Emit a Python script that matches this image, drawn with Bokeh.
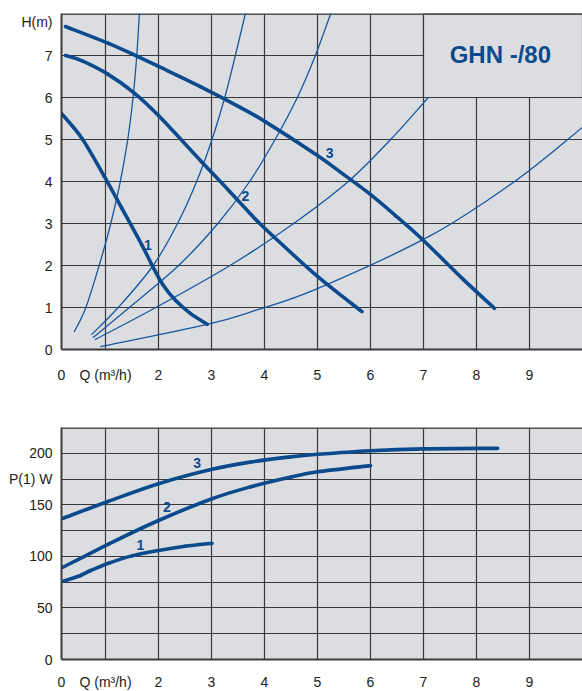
from bokeh.plotting import figure
from bokeh.models import FixedTicker, Span, Range1d
from bokeh.layouts import column
from bokeh.embed import file_html
from bokeh.resources import INLINE
from bokeh.core.properties import value

# ---------------- data: head curves H(m) vs Q(m3/h) ----------------
pump1_q = [0.17, 0.56, 0.97, 1.31, 1.69, 1.89, 2.08, 2.32, 2.60, 2.92]
pump1_h = [5.62, 5.02, 4.14, 3.36, 2.48, 1.98, 1.55, 1.17, 0.86, 0.6]
pump2_q = [0.245, 0.56, 1.05, 1.55, 2.0, 2.82, 3.36, 3.83, 4.17, 5.0, 5.84]
pump2_h = [7.0, 6.87, 6.55, 6.10, 5.57, 4.46, 3.74, 3.10, 2.69, 1.74, 0.9]
pump3_q = [0.245, 1.057, 1.60, 2.0, 2.79, 3.55, 4.02, 5.0, 5.49, 5.98, 6.47, 6.98, 7.75, 8.34]
pump3_h = [7.69, 7.29, 6.98, 6.74, 6.26, 5.76, 5.42, 4.62, 4.17, 3.71, 3.19, 2.62, 1.67, 0.98]

sysA_q = [0.415, 0.63, 0.88, 1.10, 1.28, 1.42, 1.52, 1.59, 1.64]
sysA_h = [0.43, 1.0, 2.0, 3.0, 4.0, 5.0, 6.0, 7.0, 8.0]
sysB_q = [0.74, 1.24, 1.90, 2.36, 2.72, 3.01, 3.25, 3.45, 3.64]
sysB_h = [0.36, 1.0, 2.0, 3.0, 4.0, 5.0, 6.0, 7.0, 8.0]
sysC_q = [0.77, 1.45, 2.38, 3.12, 3.72, 4.20, 4.62, 4.96, 5.25]
sysC_h = [0.29, 1.0, 2.0, 3.0, 4.0, 5.0, 6.0, 7.0, 8.0]
sysD_q = [0.81, 1.95, 3.35, 4.55, 5.58, 6.38, 7.09]
sysD_h = [0.24, 1.0, 2.0, 3.0, 4.0, 5.0, 6.0]
sysE_q = [0.91, 2.92, 3.83, 5.0, 7.13, 8.74, 10.0]
sysE_h = [0.07, 0.6, 0.93, 1.45, 2.71, 4.02, 5.29]

head_labels = ["1", "2", "3"]
head_label_q = [1.80, 3.64, 5.23]
head_label_h = [2.5, 3.65, 4.67]

# ---------------- data: power curves P1(W) vs Q ----------------
pow1_q = [0.21, 0.53, 0.72, 1.06, 1.5, 2.0, 2.5, 3.01]
pow1_p = [76, 81.5, 86.3, 93.4, 100.5, 105.7, 109.8, 112.8]
pow2_q = [0.2, 1.06, 2.0, 3.01, 3.74, 4.5, 5.0, 6.0]
pow2_p = [89.5, 112, 134.8, 155.9, 167.5, 177, 182, 188]
pow3_q = [0.2, 1.06, 2.0, 3.01, 3.74, 4.49, 5.0, 6.0, 7.0, 8.4]
pow3_p = [137, 153.5, 170.5, 184.5, 191.5, 196.5, 199, 202.5, 204.3, 204.8]

pow_labels = ["1", "2", "3"]
pow_label_q = [1.66, 2.16, 2.73]
pow_label_p = [111.5, 147.8, 190.5]

title = "GHN -/80"

x_ticks = [0.17, 1, 2, 3, 4, 5, 6, 7, 8, 9]
x_tick_labels = ["0", "Q (m³/h)", "2", "3", "4", "5", "6", "7", "8", "9"]
x_grid = [1, 2, 3, 4, 5, 6, 7, 8, 9]

h_ticks = [0, 1, 2, 3, 4, 5, 6, 7, 7.79]
h_tick_labels = ["0", "1", "2", "3", "4", "5", "6", "7", "H(m)"]
h_grid = [1, 2, 3, 4, 5, 6, 7]

p_ticks = [0, 50, 100, 150, 175, 200]
p_tick_labels = ["0", "50", "100", "150", "P(1) W", "200"]
p_grid = [25, 50, 75, 100, 125, 150, 175, 200]

# ---------------- style ----------------
BG = "#dcdde0"
GRID = "#383838"
THICK = "#0b4a8d"
THIN = "#1558a2"
FONT = "Liberation Sans"


def base(frame_h, y_end, b_top, b_bottom, x_standoff, yt, ytl, yg):
    p = figure(frame_width=521, frame_height=frame_h,
               x_range=Range1d(0.17, 10), y_range=Range1d(0, y_end),
               output_backend="svg", toolbar_location=None,
               min_border_left=61, min_border_right=0,
               min_border_top=b_top, min_border_bottom=b_bottom,
               background_fill_color=BG, border_fill_color="white",
               outline_line_color=None)
    for ax, ticks, labels in ((p.xaxis, x_ticks, x_tick_labels), (p.yaxis, yt, ytl)):
        ax.ticker = FixedTicker(ticks=ticks)
        ax.major_label_overrides = {t: l for t, l in zip(ticks, labels)}
        ax.axis_line_color = "#3c3c3c"
        ax.axis_line_width = 2
        ax.major_tick_line_color = None
        ax.minor_tick_line_color = None
        ax.major_tick_out = 0
        ax.major_tick_in = 0
        ax.major_label_text_font = FONT
        ax.major_label_text_font_size = "14px"
        ax.major_label_text_color = "#222222"
    p.xaxis.major_label_standoff = x_standoff
    p.yaxis.major_label_standoff = 9
    p.xgrid.ticker = FixedTicker(ticks=x_grid)
    p.ygrid.ticker = FixedTicker(ticks=yg)
    p.grid.grid_line_color = GRID
    p.grid.grid_line_width = 1.2
    p.add_layout(Span(location=y_end, dimension="width", line_color="#555555", line_width=3))
    return p


def smooth_curve(p, xs, ys, color, width):
    """Draw a smooth curve through the read points (Catmull-Rom as Bezier segments)."""
    X = [xs[0]] + list(xs) + [xs[-1]]
    Y = [ys[0]] + list(ys) + [ys[-1]]
    seg = dict(x0=[], y0=[], x1=[], y1=[], cx0=[], cy0=[], cx1=[], cy1=[])
    for i in range(len(xs) - 1):
        a, b, c, d = i, i + 1, i + 2, i + 3
        seg["x0"].append(X[b]); seg["y0"].append(Y[b])
        seg["x1"].append(X[c]); seg["y1"].append(Y[c])
        seg["cx0"].append(X[b] + (X[c] - X[a]) / 6.0)
        seg["cy0"].append(Y[b] + (Y[c] - Y[a]) / 6.0)
        seg["cx1"].append(X[c] - (X[d] - X[b]) / 6.0)
        seg["cy1"].append(Y[c] - (Y[d] - Y[b]) / 6.0)
    p.bezier(line_color=color, line_width=width, line_cap="round", **seg)


# ---------------- head chart ----------------
p1 = base(336, 8, 13, 36, 17, h_ticks, h_tick_labels, h_grid)
p1.quad(left=[7], right=[10], bottom=[6], top=[8], fill_color=BG,
        line_color=GRID, line_width=1.2)
for xs, ys in ((sysA_q, sysA_h), (sysB_q, sysB_h), (sysC_q, sysC_h),
               (sysD_q, sysD_h), (sysE_q, sysE_h)):
    smooth_curve(p1, xs, ys, THIN, 1.3)
for xs, ys in ((pump1_q, pump1_h), (pump2_q, pump2_h), (pump3_q, pump3_h)):
    smooth_curve(p1, xs, ys, THICK, 3.6)
p1.text(x=head_label_q, y=head_label_h, text=head_labels,
        text_font=value(FONT), text_font_style="bold", text_font_size="14px",
        text_color=THICK, text_align="center", text_baseline="middle")
p1.text(x=[8.45], y=[7.02], text=[title], text_font=value(FONT),
        text_font_style="bold", text_font_size="24px", text_color=THICK,
        text_align="center", text_baseline="middle")

# ---------------- power chart ----------------
p2 = base(232, 225, 42, 31, 14, p_ticks, p_tick_labels, p_grid)
for xs, ys in ((pow1_q, pow1_p), (pow2_q, pow2_p), (pow3_q, pow3_p)):
    smooth_curve(p2, xs, ys, THICK, 3.6)
p2.text(x=pow_label_q, y=pow_label_p, text=pow_labels,
        text_font=value(FONT), text_font_style="bold", text_font_size="14px",
        text_color=THICK, text_align="center", text_baseline="middle")

layout = column(p1, p2, spacing=0)
open("out.html", "w").write(file_html(layout, INLINE))
